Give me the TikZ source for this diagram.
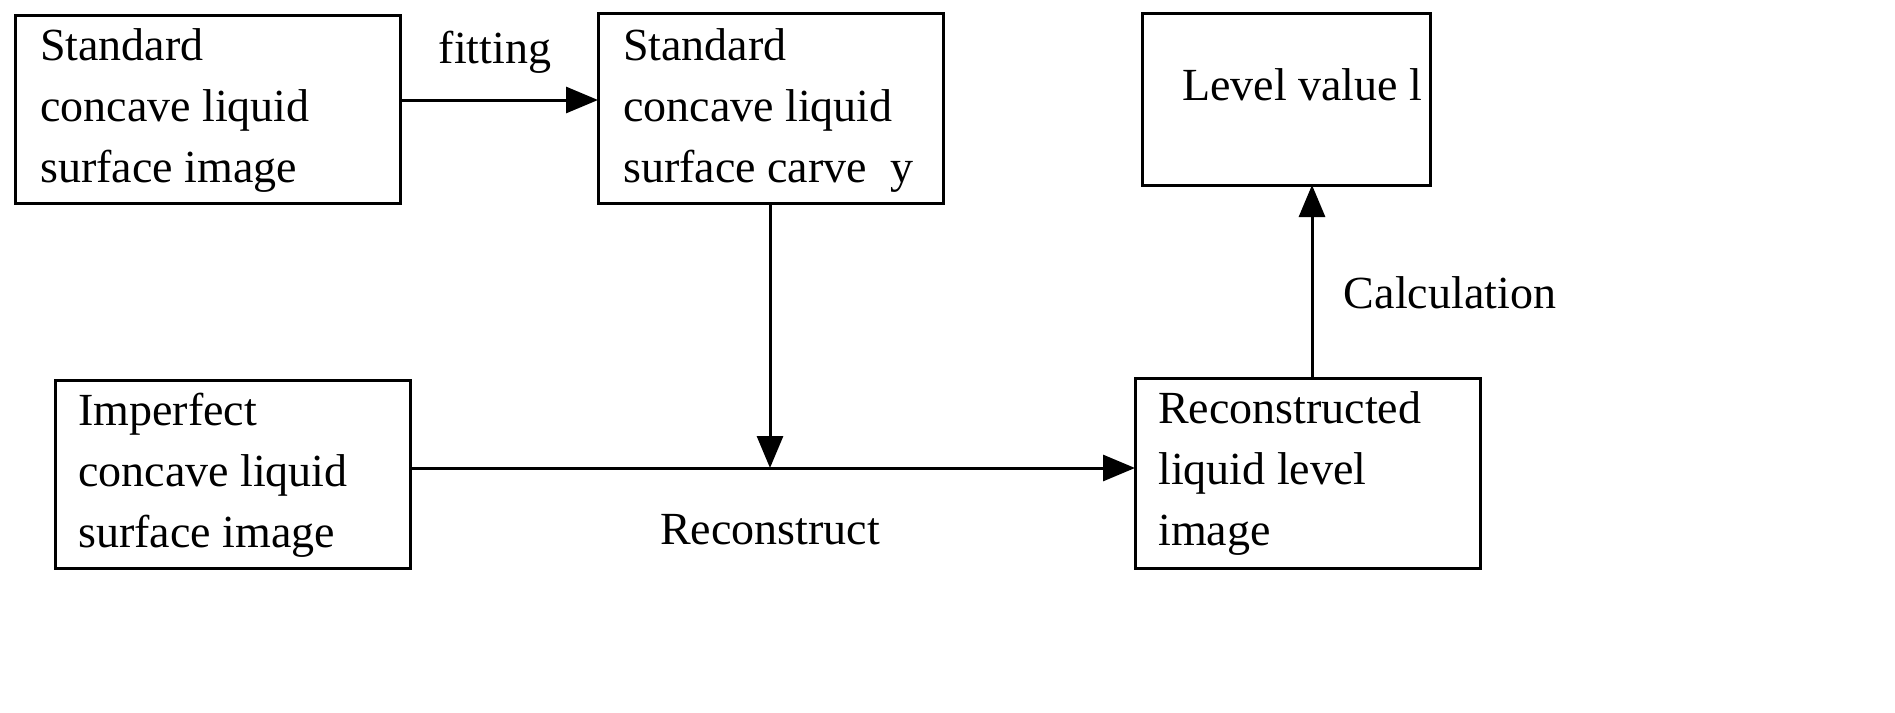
\documentclass[tikz,border=0pt]{standalone}
\usepackage{fontspec}
\setmainfont{Liberation Serif}
\usetikzlibrary{arrows.meta}
\begin{document}
\begin{tikzpicture}[x=1pt,y=-1pt,
  box/.style={draw,line width=3pt},
  txt/.style={font=\fontsize{46}{61}\selectfont,align=left,anchor=north west,inner sep=0pt},
  lbl/.style={font=\fontsize{46}{52}\selectfont,inner sep=0pt},
  arr/.style={line width=3pt,-{Triangle[length=32pt,width=26pt]}}]
\useasboundingbox (0,0) rectangle (1895,712);
\draw[box] (15,15) rectangle (400,203);
\node[txt] (At) at (40,28) {Standard\\concave liquid\\surface image};
\draw[box] (598,13) rectangle (943,203);
\node[txt] (Bt) at (623,28) {Standard\\concave liquid\\surface carve\ \ y};
\draw[box] (1142,13) rectangle (1430,185);
\node[txt] (Ct) at (1182,68) {Level value l};
\draw[box] (55,380) rectangle (410,568);
\node[txt] (Dt) at (78,393) {Imperfect\\concave liquid\\surface image};
\draw[box] (1135,378) rectangle (1480,568);
\node[txt] (Et) at (1158,391) {Reconstructed\\liquid level\\image};
\coordinate (a1) at (400,100); \coordinate (b1) at (598,100);
\coordinate (b2) at (770,203); \coordinate (m) at (770,468);
\coordinate (d1) at (410,468); \coordinate (e1) at (1135,468);
\coordinate (e2) at (1312,378); \coordinate (c1) at (1312,185);
\draw[arr] (a1) -- (b1);
\draw[arr] (b2) -- (m);
\draw[arr] (d1) -- (e1);
\draw[arr] (e2) -- (c1);
\node[lbl] (f) at (495,52) {fitting};
\node[lbl] (r) at (770,530) {Reconstruct};
\node[lbl] (c) at (1450,293) {Calculation};
\end{tikzpicture}
\end{document}
